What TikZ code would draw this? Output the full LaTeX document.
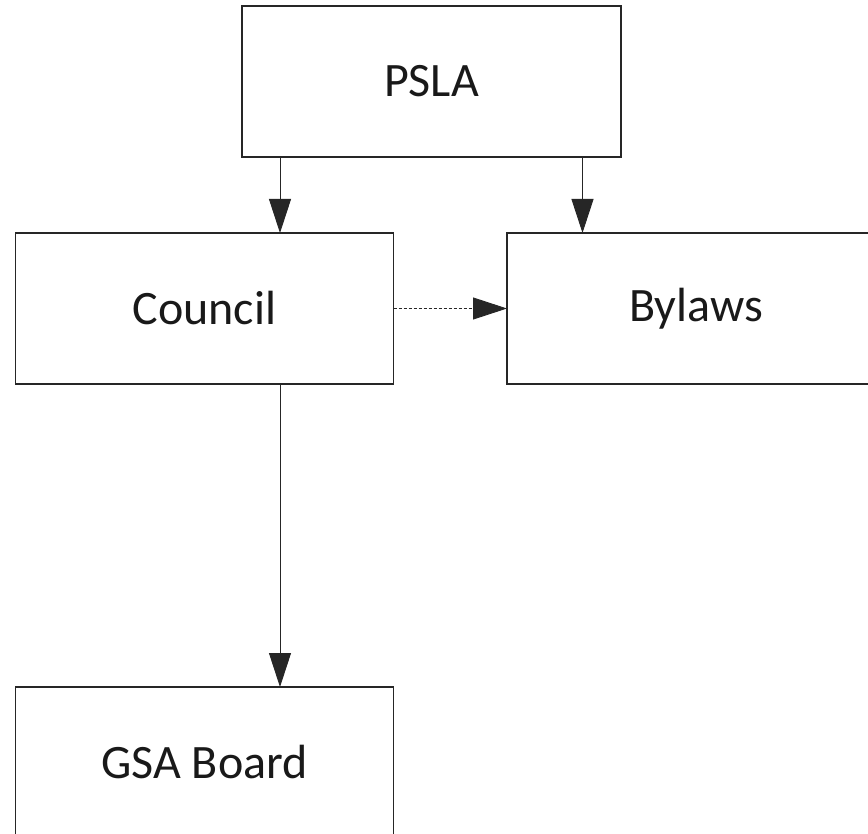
\documentclass[tikz,border=0pt]{standalone}
\usepackage{fontspec}
\setmainfont{Carlito}
\usetikzlibrary{arrows.meta}
\begin{document}
\begin{tikzpicture}[x=1pt,y=-1pt,
  box/.style={draw=black!85, line width=1.1pt, rectangle, minimum width=378pt, minimum height=151pt,
    inner sep=0pt, outer sep=0pt, font=\fontsize{48}{56}\selectfont, text=black!90},
  conn/.style={draw=black!85, line width=0.9pt, -{Triangle[length=34pt,width=22pt]}},
  dconn/.style={conn, dash pattern=on 3pt off 2pt}]
\useasboundingbox (0,0) rectangle (868,834);
\clip (0,0) rectangle (868,834);
\fill[white] (0,0) rectangle (868,834);
\node[box, minimum width=379pt] (psla) at (431.5,81.5) {PSLA};
\node[box] (council) at (204.5,308.5) {Council};
\node[box] (bylaws) at (696,308.5) {Bylaws};
\node[box] (gsa) at (204.5,762.5) {GSA Board};
\coordinate (xa) at (280,0);
\coordinate (xb) at (582.5,0);
\draw[conn] (psla.south -| xa) -- (council.north -| xa);
\draw[conn] (psla.south -| xb) -- (bylaws.north -| xb);
\draw[dconn] (council.east) -- (bylaws.west);
\draw[conn] (council.south -| xa) -- (gsa.north -| xa);
\end{tikzpicture}
\end{document}
